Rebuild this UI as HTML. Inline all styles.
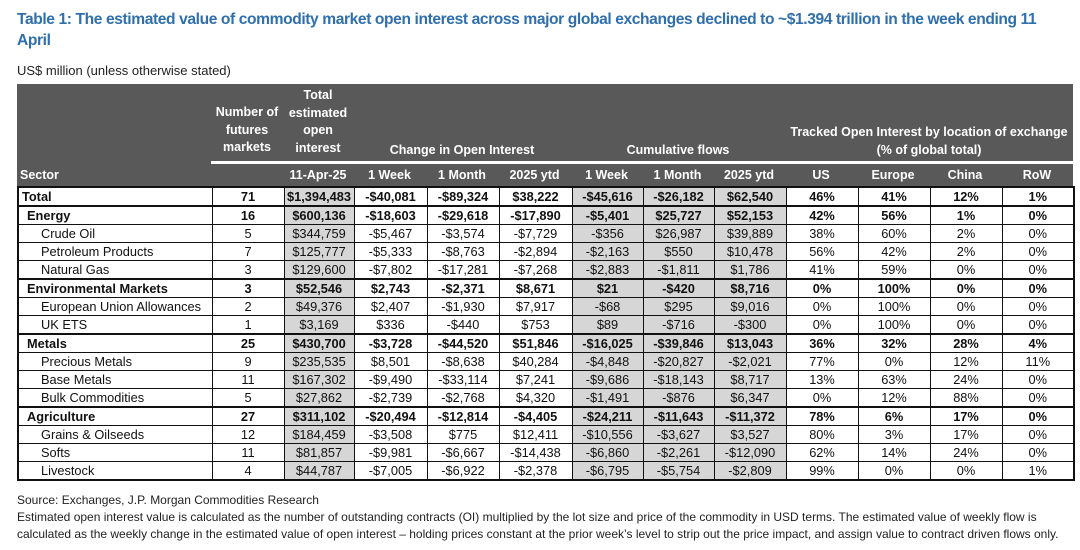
<!DOCTYPE html>
<html><head><meta charset="utf-8"><style>
body{margin:0;width:1080px;height:550px;background:#fff;font-family:"Liberation Sans",Arial,sans-serif;position:relative;overflow:hidden}
.title{position:absolute;left:17px;top:9px;width:1045px;color:#2f6fad;font-weight:bold;font-size:15.6px;line-height:21px;letter-spacing:-0.4px}
.subt{position:absolute;left:17px;top:63px;font-size:13px;color:#222}
.hdr{position:absolute;left:17px;top:84px;width:1056px;height:102px;background:#595959;color:#fff;font-weight:bold;font-size:12.5px}
.hdr div{position:absolute;text-align:center;line-height:17.5px}
.wl{position:absolute;left:194px;top:77px;width:862px;height:3px;background:#fff}
table{position:absolute;left:17px;top:186px;border-collapse:collapse;table-layout:fixed;width:1056px;font-size:12.8px;color:#111}
td{border:1px solid #111;height:17px;padding:0;text-align:center;white-space:nowrap;overflow:hidden;line-height:15px}
td.s{text-align:left;padding-left:3px}
td.g{background:#d6d6d6}
tr.b td{font-weight:bold;border-top:2px solid #111}
tr.sr td.s{padding-left:22px}
tr.l2 td.s{padding-left:8px}
table{border:2px solid #111}
.foot{position:absolute;left:17px;top:492px;font-size:12px;line-height:17px;color:#222;width:1060px}
</style></head><body>
<div class="title">Table 1: The estimated value of commodity market open interest across major global exchanges declined to ~$1.394 trillion in the week ending 11 April</div>
<div class="subt">US$ million (unless otherwise stated)</div>
<div class="hdr">
<div style="left:194px;width:72px;top:20px">Number of<br>futures<br>markets</div>
<div style="left:266px;width:70px;top:3px">Total<br>estimated<br>open<br>interest</div>
<div style="left:336px;width:218px;top:58px">Change in Open Interest</div>
<div style="left:554px;width:214px;top:58px">Cumulative flows</div>
<div style="left:768px;width:288px;top:40px">Tracked Open Interest by location of exchange<br>(% of global total)</div>
<div class="wl"></div>
<div style="left:3px;top:83px;text-align:left">Sector</div>
<div style="left:266px;width:70px;top:83px">11-Apr-25</div>
<div style="left:336px;width:73px;top:83px">1 Week</div>
<div style="left:409px;width:72px;top:83px">1 Month</div>
<div style="left:481px;width:73px;top:83px">2025 ytd</div>
<div style="left:554px;width:71px;top:83px">1 Week</div>
<div style="left:625px;width:71px;top:83px">1 Month</div>
<div style="left:696px;width:72px;top:83px">2025 ytd</div>
<div style="left:768px;width:72px;top:83px">US</div>
<div style="left:840px;width:72px;top:83px">Europe</div>
<div style="left:912px;width:72px;top:83px">China</div>
<div style="left:984px;width:72px;top:83px">RoW</div>
</div>
<table>
<colgroup><col style="width:194px"><col style="width:72px"><col style="width:70px"><col style="width:73px"><col style="width:72px"><col style="width:73px"><col style="width:71px"><col style="width:71px"><col style="width:72px"><col style="width:72px"><col style="width:72px"><col style="width:72px"><col style="width:72px"></colgroup>
<tbody id="tb"></tbody></table>
<div class="foot">Source: Exchanges, J.P. Morgan Commodities Research<br>Estimated open interest value is calculated as the number of outstanding contracts (OI) multiplied by the lot size and price of the commodity in USD terms. The estimated value of weekly flow is calculated as the weekly change in the estimated value of open interest – holding prices constant at the prior week’s level to strip out the price impact, and assign value to contract driven flows only.</div>
<script>
const rows=[
["b","Total","71","$1,394,483","-$40,081","-$89,324","$38,222","-$45,616","-$26,182","$62,540","46%","41%","12%","1%"],
["b l2","Energy","16","$600,136","-$18,603","-$29,618","-$17,890","-$5,401","$25,727","$52,153","42%","56%","1%","0%"],
["sr","Crude Oil","5","$344,759","-$5,467","-$3,574","-$7,729","-$356","$26,987","$39,889","38%","60%","2%","0%"],
["sr","Petroleum Products","7","$125,777","-$5,333","-$8,763","-$2,894","-$2,163","$550","$10,478","56%","42%","2%","0%"],
["sr","Natural Gas","3","$129,600","-$7,802","-$17,281","-$7,268","-$2,883","-$1,811","$1,786","41%","59%","0%","0%"],
["b l2","Environmental Markets","3","$52,546","$2,743","-$2,371","$8,671","$21","-$420","$8,716","0%","100%","0%","0%"],
["sr","European Union Allowances","2","$49,376","$2,407","-$1,930","$7,917","-$68","$295","$9,016","0%","100%","0%","0%"],
["sr","UK ETS","1","$3,169","$336","-$440","$753","$89","-$716","-$300","0%","100%","0%","0%"],
["b l2","Metals","25","$430,700","-$3,728","-$44,520","$51,846","-$16,025","-$39,846","$13,043","36%","32%","28%","4%"],
["sr","Precious Metals","9","$235,535","$8,501","-$8,638","$40,284","-$4,848","-$20,827","-$2,021","77%","0%","12%","11%"],
["sr","Base Metals","11","$167,302","-$9,490","-$33,114","$7,241","-$9,686","-$18,143","$8,717","13%","63%","24%","0%"],
["sr","Bulk Commodities","5","$27,862","-$2,739","-$2,768","$4,320","-$1,491","-$876","$6,347","0%","12%","88%","0%"],
["b l2","Agriculture","27","$311,102","-$20,494","-$12,814","-$4,405","-$24,211","-$11,643","-$11,372","78%","6%","17%","0%"],
["sr","Grains &amp; Oilseeds","12","$184,459","-$3,508","$775","$12,411","-$10,556","-$3,627","$3,527","80%","3%","17%","0%"],
["sr","Softs","11","$81,857","-$9,981","-$6,667","-$14,438","-$6,860","-$2,261","-$12,090","62%","14%","24%","0%"],
["sr","Livestock","4","$44,787","-$7,005","-$6,922","-$2,378","-$6,795","-$5,754","-$2,809","99%","0%","0%","1%"]];
const gray=[2,6,7,8];
const tb=document.getElementById('tb');
rows.forEach(r=>{
 const tr=document.createElement('tr');tr.className=r[0];
 
 
 r.slice(1).forEach((v,i)=>{const td=document.createElement('td');td.innerHTML=v;
  if(i==0)td.className='s';if(gray.includes(i))td.className='g';tr.appendChild(td);});
 tb.appendChild(tr);
});
</script>
</body></html>
